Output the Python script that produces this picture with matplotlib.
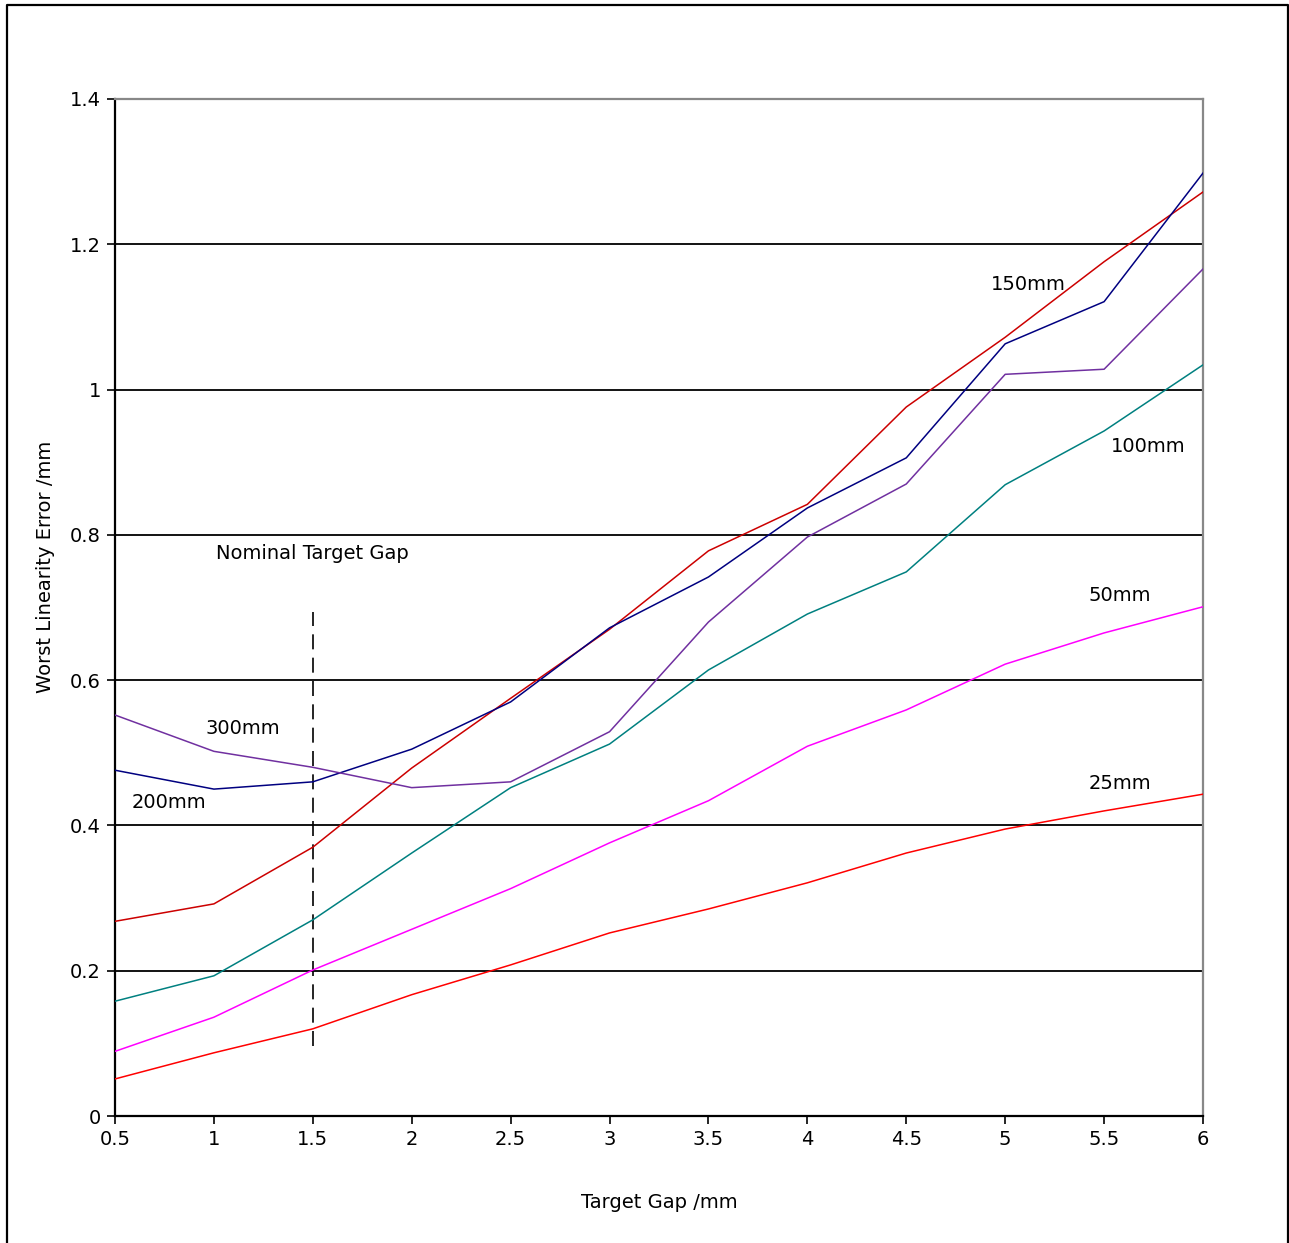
import matplotlib
matplotlib.use("Agg")
import matplotlib.pyplot as plt
from matplotlib.lines import Line2D

# target gap /mm
gap = [0.5, 1, 1.5, 2, 2.5, 3, 3.5, 4, 4.5, 5, 5.5, 6]

# worst linearity error /mm for each range
err_25 = [0.051, 0.087, 0.120, 0.167, 0.208, 0.252, 0.285, 0.321, 0.362, 0.395, 0.420, 0.443]
err_50 = [0.089, 0.136, 0.201, 0.257, 0.313, 0.376, 0.434, 0.509, 0.559, 0.622, 0.665, 0.701]
err_100 = [0.158, 0.193, 0.270, 0.362, 0.452, 0.512, 0.614, 0.691, 0.749, 0.869, 0.943, 1.034]
err_150 = [0.268, 0.292, 0.370, 0.479, 0.575, 0.670, 0.778, 0.842, 0.976, 1.072, 1.176, 1.272]
err_200 = [0.476, 0.450, 0.460, 0.505, 0.570, 0.672, 0.742, 0.837, 0.906, 1.063, 1.121, 1.298]
err_300 = [0.552, 0.502, 0.480, 0.452, 0.460, 0.529, 0.680, 0.797, 0.870, 1.021, 1.028, 1.166]

nominal_gap = 1.5
nominal_span = [0.096, 0.694]

xticks = [0.5, 1, 1.5, 2, 2.5, 3, 3.5, 4, 4.5, 5, 5.5, 6]
xticklabels = ["0.5", "1", "1.5", "2", "2.5", "3", "3.5", "4", "4.5", "5", "5.5", "6"]
yticks = [0, 0.2, 0.4, 0.6, 0.8, 1, 1.2, 1.4]
yticklabels = ["0", "0.2", "0.4", "0.6", "0.8", "1", "1.2", "1.4"]

plt.rcParams['font.family'] = ['DejaVu Sans']
plt.rcParams['font.size'] = 14

fig = plt.figure(figsize=(12.89, 12.43), dpi=100)
ax = fig.add_axes([115/1289, 1-1116/1243, (1203-115)/1289, (1116-99)/1243])

# outer frame (bottom edge falls off the image)
W, H = 1289, 1243
fx = [7/W, 7/W, 1288/W, 1288/W]
fy = [-0.01, 1-5/H, 1-5/H, -0.01]
fig.add_artist(Line2D(fx, fy, transform=fig.transFigure, color='black', lw=1.6))

for yv in yticks[1:-1]:
    ax.axhline(yv, color='black', lw=1.3, zorder=1)

ax.plot(gap, err_25, color='#FF0000', lw=1.1, zorder=3)
ax.plot(gap, err_50, color='#FF00FF', lw=1.1, zorder=3)
ax.plot(gap, err_100, color='#008080', lw=1.1, zorder=3)
ax.plot(gap, err_150, color='#CC0000', lw=1.1, zorder=3)
ax.plot(gap, err_200, color='#000080', lw=1.1, zorder=3)
ax.plot(gap, err_300, color='#7030A0', lw=1.1, zorder=3)

ax.plot([nominal_gap, nominal_gap], nominal_span, color='black', lw=1.2,
        dashes=(9, 5), zorder=2)

ax.text(1.01, 0.774, "Nominal Target Gap", va='center', ha='left')
ax.text(0.955, 0.534, "300mm", va='center', ha='left')
ax.text(0.586, 0.432, "200mm", va='center', ha='left')
ax.text(4.93, 1.145, "150mm", va='center', ha='left')
ax.text(5.535, 0.921, "100mm", va='center', ha='left')
ax.text(5.42, 0.717, "50mm", va='center', ha='left')
ax.text(5.42, 0.458, "25mm", va='center', ha='left')

ax.set_xlim(0.5, 6)
ax.set_ylim(0, 1.4)
ax.set_xticks(xticks)
ax.set_xticklabels(xticklabels)
ax.set_yticks(yticks)
ax.set_yticklabels(yticklabels)
ax.tick_params(direction='out', length=6, width=1.2, color='black', pad=4)

ax.spines['left'].set_color('black')
ax.spines['left'].set_linewidth(1.6)
ax.spines['bottom'].set_color('black')
ax.spines['bottom'].set_linewidth(1.6)
ax.spines['top'].set_color('#888888')
ax.spines['top'].set_linewidth(1.6)
ax.spines['right'].set_color('#888888')
ax.spines['right'].set_linewidth(1.6)

ax.set_xlabel("Target Gap /mm", labelpad=32)
ax.set_ylabel("Worst Linearity Error /mm", labelpad=14)
ax.yaxis.set_label_coords(-0.055, 0.54)

fig.savefig("out.png", dpi=100)
